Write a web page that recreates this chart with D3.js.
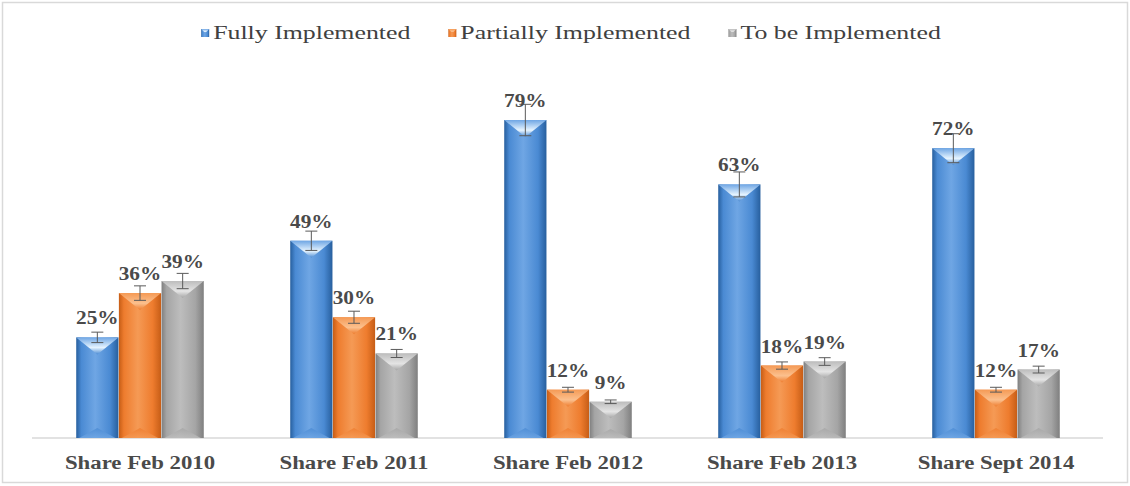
<!DOCTYPE html>
<html><head><meta charset="utf-8">
<script src="https://cdn.jsdelivr.net/npm/d3@7"></script>
<style>
html,body{margin:0;padding:0;background:#fff;}
svg{display:block;}
</style></head>
<body>
<svg id="chart" width="1130" height="486"></svg>
<script>
const categories = ["Share Feb 2010","Share Feb 2011","Share Feb 2012","Share Feb 2013","Share Sept 2014"];
const seriesNames = ["Fully Implemented","Partially Implemented","To be Implemented"];
const fullyValues = [25,49,79,63,72];
const partialValues = [36,30,12,18,12];
const toBeValues = [39,21,9,19,17];
const fullyErrors = [1.3,2.4,3.9,3.1,3.6];
const partialErrors = [1.8,1.5,0.6,0.9,0.6];
const toBeErrors = [1.9,1.0,0.45,0.95,0.85];
const yDomain = [0,80];

const palette = [
  {main:"#4a8ad3", dark:"#275f9e", light:"#6fa6e4", top:"#e6f4ff"},
  {main:"#ee7c2e", dark:"#c65d16", light:"#f59a55", top:"#fbc08e"},
  {main:"#a5a5a5", dark:"#7f7f7f", light:"#bdbdbd", top:"#e4e4e4"}
];
const seriesValues = [fullyValues, partialValues, toBeValues];
const seriesErrors = [fullyErrors, partialErrors, toBeErrors];

const W = 1130, H = 486;
const svg = d3.select("#chart");
const defs = svg.append("defs");
const SX = 1.2;
const fontFam = "'Liberation Serif','Times New Roman',serif";

// chart border
svg.append("rect").attr("x",2.5).attr("y",2.5).attr("width",W-5).attr("height",H-6)
  .attr("fill","#fff").attr("stroke","#d9d9d9").attr("stroke-width",1.5);

const plot = {left:33, right:1103, top:116, bottom:438};
const x0 = d3.scaleBand().domain(categories).range([plot.left, plot.right]).paddingInner(0.4).paddingOuter(0.2);
const x1 = d3.scaleBand().domain(seriesNames).range([0, x0.bandwidth()]).padding(0.01);
const y = d3.scaleLinear().domain(yDomain).range([plot.bottom, plot.top]);

// gradients
palette.forEach((p,i)=>{
  const g = defs.append("linearGradient").attr("id","side"+i).attr("x1","0").attr("x2","1").attr("y1","0").attr("y2","0");
  g.append("stop").attr("offset","0").attr("stop-color",p.dark);
  g.append("stop").attr("offset","0.12").attr("stop-color",p.main);
  g.append("stop").attr("offset","0.45").attr("stop-color",p.light);
  g.append("stop").attr("offset","0.8").attr("stop-color",p.main);
  g.append("stop").attr("offset","1").attr("stop-color",p.dark);
  const t = defs.append("linearGradient").attr("id","top"+i).attr("x1","0").attr("x2","0").attr("y1","0").attr("y2","1");
  t.append("stop").attr("offset","0").attr("stop-color",p.light);
  t.append("stop").attr("offset","0.6").attr("stop-color",p.top);
  t.append("stop").attr("offset","1").attr("stop-color",p.main);
  const b = defs.append("linearGradient").attr("id","bot"+i).attr("x1","0").attr("x2","0").attr("y1","0").attr("y2","1");
  b.append("stop").attr("offset","0").attr("stop-color",p.main);
  b.append("stop").attr("offset","1").attr("stop-color",p.light);
});

// axis baseline
const xAxis = d3.axisBottom(x0).tickSize(0).tickPadding(0);
const axG = svg.append("g").attr("transform",`translate(0,${plot.bottom})`).call(xAxis);
axG.select(".domain").attr("stroke","#d9d9d9").attr("stroke-width",1.5).attr("d",`M${plot.left-1},0H${plot.right}`);
axG.selectAll(".tick text").remove();
axG.selectAll(".tick").append("text")
  .attr("transform",`translate(0,31) scale(${SX},1)`)
  .attr("text-anchor","middle")
  .attr("font-family",fontFam).attr("font-size",19).attr("font-weight","bold")
  .attr("fill","#4a4a4a")
  .text(d=>d);

// bars
const groups = svg.selectAll(".grp").data(categories).enter().append("g")
  .attr("class","grp").attr("transform",d=>`translate(${x0(d)},0)`);

seriesNames.forEach((s,si)=>{
  groups.each(function(cat,ci){
    const g = d3.select(this);
    const v = seriesValues[si][ci];
    const e = seriesErrors[si][ci];
    const bx = x1(s), bw = x1.bandwidth();
    const top = y(v), h = y(0)-y(v);
    const tri = Math.min(17, h/2.2);
    g.append("rect").attr("x",bx).attr("y",top).attr("width",bw).attr("height",h).attr("fill",`url(#side${si})`);
    g.append("path").attr("d",`M${bx},${top}L${bx+bw},${top}L${bx+bw/2},${top+tri}Z`).attr("fill",`url(#top${si})`);
    const bt = Math.min(10, h/4);
    g.append("path").attr("d",`M${bx+3},${y(0)}L${bx+bw-3},${y(0)}L${bx+bw/2},${y(0)-bt}Z`).attr("fill",`url(#bot${si})`).attr("opacity",0.8);
    const cx = bx+bw/2;
    const eg = g.append("g").attr("stroke","#5a5a5a").attr("stroke-width",1);
    eg.append("line").attr("x1",cx).attr("x2",cx).attr("y1",y(v+e)).attr("y2",y(v-e));
    eg.append("line").attr("x1",cx-6).attr("x2",cx+6).attr("y1",y(v+e)).attr("y2",y(v+e));
    eg.append("line").attr("x1",cx-6).attr("x2",cx+6).attr("y1",y(v-e)).attr("y2",y(v-e));
  });
});
// labels
seriesNames.forEach((s,si)=>{
  groups.each(function(cat,ci){
    const g = d3.select(this);
    const v = seriesValues[si][ci];
    const cx = x1(s)+x1.bandwidth()/2;
    g.append("text").attr("transform",`translate(${cx},${y(v)-13}) scale(1.12,1)`)
      .attr("text-anchor","middle")
      .attr("font-family",fontFam).attr("font-size",19).attr("font-weight","bold")
      .attr("fill","#4a4a4a").text(v+"%");
  });
});

// legend
const LSX = 1.36;
const leg = svg.append("g");
let lx = 0;
seriesNames.forEach((s,si)=>{
  const it = leg.append("g");
  it.append("rect").attr("x",0).attr("y",-4).attr("width",8).attr("height",8).attr("fill",`url(#side${si})`);
  it.append("path").attr("d","M0,-4L8,-4L4,0Z").attr("fill",`url(#top${si})`);
  const t = it.append("text").attr("transform",`translate(12,6) scale(${LSX},1)`)
    .attr("font-family",fontFam).attr("font-size",19).attr("fill","#404040").text(s);
  const tw = t.node().getComputedTextLength()*LSX;
  it.attr("transform",`translate(${lx},0)`);
  lx += 12 + tw + 38;
});
const legW = lx - 38;
leg.attr("transform",`translate(${(plot.left+plot.right)/2 + 3 - legW/2},33)`);
</script>
</body></html>
